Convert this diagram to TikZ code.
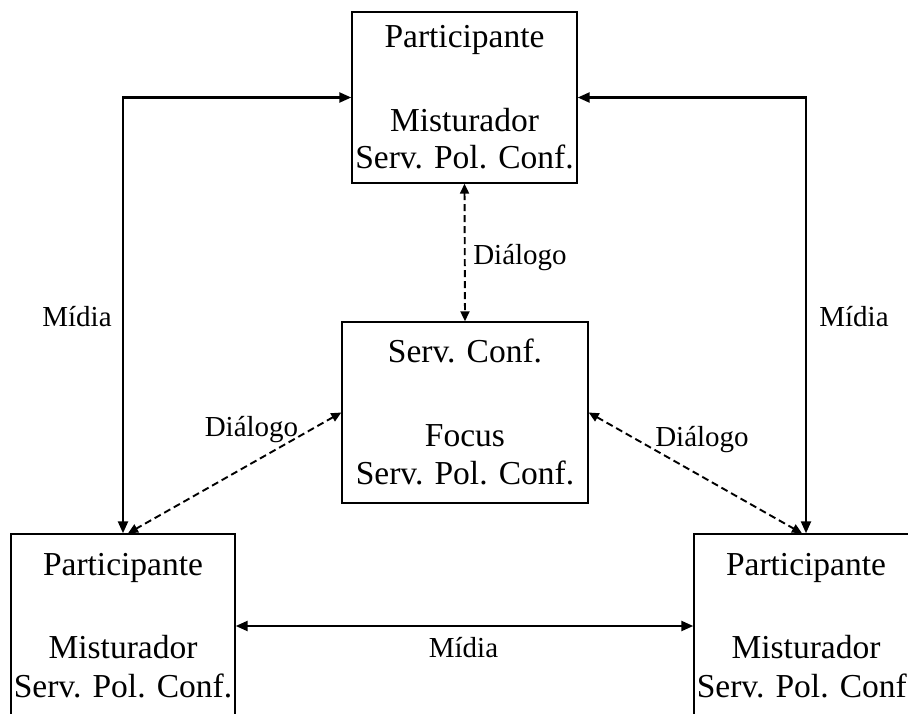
\documentclass[tikz,border=0pt]{standalone}
\usepackage{fontspec}
\setmainfont{Liberation Serif}
\usetikzlibrary{arrows.meta}
\begin{document}
\begin{tikzpicture}[x=1pt,y=1pt,
  box/.style={draw, line width=1.4pt, inner sep=0pt},
  boxtext/.style={font=\fontsize{33.5}{40}\selectfont, anchor=base, inner sep=0pt},
  lbl/.style={font=\fontsize{29}{34}\selectfont, anchor=base, inner sep=0pt},
  media/.style={line width=2.3pt,
    {Triangle[length=12pt,width=10pt]}-{Triangle[length=12pt,width=10pt]}},
  dialog/.style={line width=1.9pt, dash pattern=on 7pt off 4pt,
    {Triangle[length=10pt,width=9pt]}-{Triangle[length=10pt,width=9pt]}}]

\useasboundingbox (0,0) rectangle (908,713);
\clip (0,0) rectangle (908,713);

% boxes
\node[box, minimum width=225pt, minimum height=171pt] (T)  at (464.5,615.5) {};
\node[box, minimum width=246pt, minimum height=181pt] (M)  at (465,300.5) {};
\node[box, minimum width=224pt, minimum height=184pt] (BL) at (123,87) {};
\node[box, minimum width=224pt, minimum height=184pt] (BR) at (806,87) {};

% box contents
\node[boxtext] (T1) at ([yshift=-36pt]T.north)  {Participante};
\node[boxtext] (T2) at ([yshift=-120pt]T.north) {Misturador};
\node[boxtext] (T3) at ([yshift=-157pt]T.north) {Serv. Pol. Conf.};

\node[boxtext] (M1) at ([yshift=-41pt]M.north)  {Serv. Conf.};
\node[boxtext] (M2) at ([yshift=-125pt]M.north) {Focus};
\node[boxtext] (M3) at ([yshift=-163pt]M.north) {Serv. Pol. Conf.};

\node[boxtext] (L1) at ([yshift=-42pt]BL.north)  {Participante};
\node[boxtext] (L2) at ([yshift=-125pt]BL.north) {Misturador};
\node[boxtext] (L3) at ([yshift=-164pt]BL.north) {Serv. Pol. Conf.};

\node[boxtext] (R1) at ([yshift=-42pt]BR.north)  {Participante};
\node[boxtext] (R2) at ([yshift=-125pt]BR.north) {Misturador};
\node[boxtext] (R3) at ([yshift=-164pt]BR.north) {Serv. Pol. Conf.};

% media links
\draw[media] (BL.north) |- (T.west);
\draw[media] (T.east) -| (BR.north);
\draw[media] (BL.east) -- (BR.west);

% dialog links
\draw[dialog] (T.south) -- (M.north);
\draw[dialog] (M.west) -- ([xshift=5pt]BL.north);
\draw[dialog] (M.east) -- ([xshift=-4pt]BR.north);

% labels
\node[lbl] (mL) at (77,386.3)  {Mídia};
\node[lbl] (mR) at (854,386)   {Mídia};
\node[lbl] (mB) at (463.5,56)  {Mídia};
\node[lbl] (dT) at (520,448)   {Diálogo};
\node[lbl] (dL) at (251.5,276.5) {Diálogo};
\node[lbl] (dR) at (702,266)   {Diálogo};
\end{tikzpicture}
\end{document}
